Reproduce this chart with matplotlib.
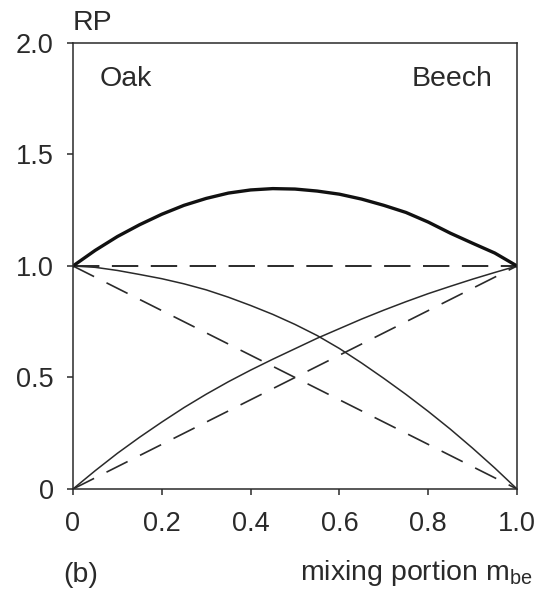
import matplotlib
matplotlib.use("Agg")
import matplotlib.pyplot as plt
import numpy as np

plt.rcParams['font.family'] = ['Liberation Sans', 'DejaVu Sans']
plt.rcParams['lines.scale_dashes'] = False

# mixing portion of beech
m_be = [0.00, 0.05, 0.10, 0.15, 0.20, 0.25, 0.30, 0.35, 0.40, 0.45, 0.50,
        0.55, 0.60, 0.65, 0.70, 0.75, 0.80, 0.85, 0.90, 0.95, 1.00]
# relative productivity of the mixture (total)
rp_total = [1.000, 1.070, 1.132, 1.185, 1.232, 1.272, 1.303, 1.327, 1.341, 1.347, 1.345,
            1.336, 1.322, 1.300, 1.272, 1.240, 1.197, 1.147, 1.102, 1.058, 1.000]
# relative productivity contributed by oak
rp_oak = [1.000, 0.994, 0.980, 0.962, 0.943, 0.920, 0.893, 0.860, 0.823, 0.783, 0.738,
          0.688, 0.630, 0.565, 0.496, 0.424, 0.348, 0.268, 0.183, 0.094, 0.000]
# relative productivity contributed by beech
rp_beech = [0.000, 0.082, 0.160, 0.232, 0.300, 0.365, 0.425, 0.481, 0.533, 0.582, 0.629,
            0.676, 0.719, 0.762, 0.802, 0.840, 0.876, 0.909, 0.941, 0.971, 1.000]

# reference lines (no mixing effect)
ref_x = [0.0, 1.0]
ref_total = [1.0, 1.0]
ref_oak = [1.0, 0.0]
ref_beech = [0.0, 1.0]

x_ticks = [0, 0.2, 0.4, 0.6, 0.8, 1.0]
x_tick_labels = ["0", "0.2", "0.4", "0.6", "0.8", "1.0"]
y_ticks = [0, 0.5, 1.0, 1.5, 2.0]
y_tick_labels = ["0", "0.5", "1.0", "1.5", "2.0"]

ink = "#2a2a2a"

fig = plt.figure(figsize=(5.39, 5.93), dpi=100)
ax = fig.add_axes([0.1354, 0.1754, 0.8238, 0.7521])

ax.plot(ref_x, ref_total, color=ink, lw=1.4, dashes=(19, 9))
ax.plot(ref_x, ref_oak, color=ink, lw=1.2, dashes=(17, 10))
ax.plot(ref_x, ref_beech, color=ink, lw=1.2, dashes=(17, 10))

ax.plot(m_be, rp_oak, color=ink, lw=1.1)
ax.plot(m_be, rp_beech, color=ink, lw=1.1)
ax.plot(m_be, rp_total, color="#111111", lw=2.4)

ax.set_xlim(0, 1)
ax.set_ylim(0, 2)
ax.set_xticks(x_ticks)
ax.set_xticklabels(x_tick_labels)
ax.set_yticks(y_ticks)
ax.set_yticklabels(y_tick_labels)

for s in ax.spines.values():
    s.set_linewidth(1.1)
    s.set_color(ink)

ax.tick_params(axis='both', direction='out', length=4, width=1.1, color=ink,
               labelsize=19.5, labelcolor=ink)
ax.tick_params(axis='y', pad=10)
ax.tick_params(axis='x', pad=12)

ax.text(0.061, 0.92, "Oak", transform=ax.transAxes, fontsize=20.5, color=ink,
        ha='left', va='center')
ax.text(0.944, 0.92, "Beech", transform=ax.transAxes, fontsize=20.5, color=ink,
        ha='right', va='center')
fig.text(73 / 539, 1 - 23 / 593, "RP", fontsize=20.5, color=ink, ha='left', va='center')
fig.text(81 / 539, 1 - 575 / 593, "(b)", fontsize=20.5, color=ink, ha='center', va='center')
fig.text(533 / 539, 1 - 573 / 593, r"mixing portion m$_{\mathregular{be}}$", fontsize=20.5,
         color=ink, ha='right', va='center')

fig.savefig("out.png", dpi=100)
